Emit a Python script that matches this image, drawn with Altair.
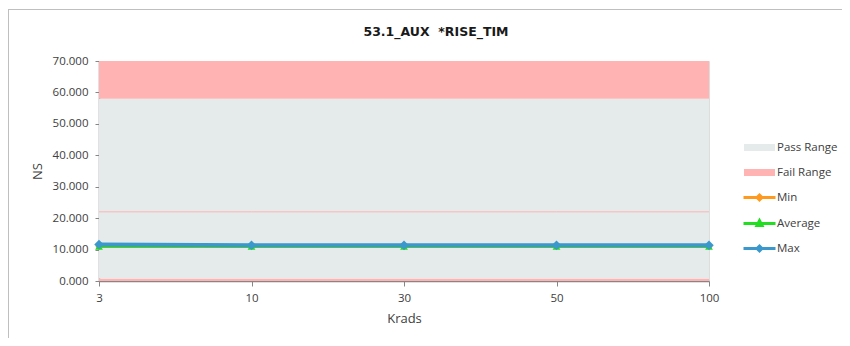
import altair as alt
import pandas as pd

# ---- data ----
krads = ["3", "10", "30", "50", "100"]
min_vals = [10.9, 10.9, 10.9, 10.9, 10.9]
avg_vals = [11.0, 11.0, 11.0, 11.0, 11.0]
max_vals = [11.6, 11.4, 11.4, 11.4, 11.4]

band_names = ["Fail Low", "Pass", "Fail High"]
band_lo = [0.0, 0.8, 58.0]
band_hi = [0.8, 58.0, 70.0]
limit_line = [22.0, 22.0, 22.0, 22.0, 22.0]

y_ticks = [0, 10, 20, 30, 40, 50, 60, 70]

legend_names = ["Pass Range", "Fail Range", "Min", "Average", "Max"]

# ---- styles ----
PASS = "#E5EBEB"
FAIL = "#FFB3B3"
C_MIN = "#FF9A1F"
C_AVG = "#22DD22"
C_MAX = "#3A98CC"
FONT = "Open Sans"
TXT = "#404040"

rect_path = "M-3.1,-0.4H3.1M-3.1,0H3.1M-3.1,0.4H3.1"
diam_path = "M-3.2,0H3.2M0,-0.5L0.5,0L0,0.5L-0.5,0Z"
tri_path = "M-3.2,0H3.2M0,-0.55L0.5,0.4L-0.5,0.4Z"

# ---- tables ----
band_rows = []
for b, lo, hi in zip(band_names, band_lo, band_hi):
    for k in krads:
        band_rows.append({"krads": k, "band": b, "lo": lo, "hi": hi})
bands = pd.DataFrame(band_rows)

series = pd.DataFrame(
    [{"krads": k, "series": "Min", "value": v} for k, v in zip(krads, min_vals)]
    + [{"krads": k, "series": "Average", "value": v} for k, v in zip(krads, avg_vals)]
    + [{"krads": k, "series": "Max", "value": v} for k, v in zip(krads, max_vals)]
)
limit_df = pd.DataFrame({"krads": krads, "limit": limit_line})
legend_df = pd.DataFrame({"name": legend_names})

X = alt.X(
    "krads:N",
    sort=krads,
    scale=alt.Scale(type="point", padding=0),
    axis=alt.Axis(
        title="Krads", labelAngle=0, labelFont=FONT, labelFontSize=11.5, labelColor=TXT,
        labelPadding=6, tickSize=5, tickColor="#868686", domainColor="#868686",
        domainWidth=1.5, titleFont=FONT, titleFontSize=13, titleFontWeight="normal",
        titleColor=TXT, titlePadding=9, grid=False, labelOverlap=False,
    ),
)
yscale = alt.Scale(domain=[0, 70], nice=False)
yaxis = alt.Axis(
    title="NS", values=y_ticks, format=".3f", grid=False, labelFont=FONT, labelFontSize=11.5,
    labelColor=TXT, labelPadding=7, tickSize=4, tickColor="#868686", domainColor="#868686",
    domainWidth=1.5, titleFont=FONT, titleFontSize=13, titleFontWeight="normal",
    titleColor=TXT, titlePadding=8, labelOverlap=False, labelFlush=False,
)


def Y(field):
    return alt.Y(field, scale=yscale, axis=yaxis)


areas = alt.Chart(bands).mark_area(opacity=1).encode(
    x=X,
    y=Y("lo:Q"),
    y2="hi:Q",
    fill=alt.Fill("band:N", scale=alt.Scale(domain=band_names, range=[FAIL, PASS, FAIL]), legend=None),
    detail="band:N",
)

limit = alt.Chart(limit_df).mark_line(color=FAIL, strokeWidth=1).encode(x=X, y=Y("limit:Q"))

layers = [areas, limit]
specs = [("Min", C_MIN, 2.5, "diamond", 50), ("Average", C_AVG, 2.5, "triangle-up", 60), ("Max", C_MAX, 4, "diamond", 90)]
for name, col, sw, shp, sz in specs:
    base = alt.Chart(series).transform_filter(alt.datum.series == name)
    layers.append(base.mark_line(color=col, strokeWidth=sw).encode(x=X, y=Y("value:Q")))
    layers.append(
        base.mark_point(filled=True, shape=shp, size=sz, color=col, opacity=1).encode(x=X, y=Y("value:Q"))
    )

leg = alt.Legend(
    title=None, orient="none", legendX=654, legendY=80, symbolSize=100, labelOffset=11,
    rowPadding=8, symbolStrokeWidth=3, labelFont=FONT, labelFontSize=11.5, labelColor=TXT, padding=0,
)
legend_layer = alt.Chart(legend_df).transform_filter("false").mark_point(
    filled=False, strokeWidth=3, opacity=1
).encode(
    color=alt.Color("name:N", scale=alt.Scale(domain=legend_names, range=[PASS, FAIL, C_MIN, C_AVG, C_MAX]), legend=leg, sort=legend_names),
    shape=alt.Shape("name:N", scale=alt.Scale(domain=legend_names, range=[rect_path, rect_path, diam_path, tri_path, diam_path]), legend=leg, sort=legend_names),
)
layers.append(legend_layer)

one = pd.DataFrame({"a": [0]})
frame_v = alt.Chart(one).mark_rule(color="#BFBFBF", strokeWidth=1).encode(
    x=alt.value(-90.5), y=alt.value(-52), y2=alt.value(280)
)
frame_h = alt.Chart(one).mark_rule(color="#BFBFBF", strokeWidth=1).encode(
    x=alt.value(-91), x2=alt.value(745), y=alt.value(-51.5)
)
layers += [frame_v, frame_h]

chart = alt.layer(*layers).properties(
    width=610,
    height=220,
    title=alt.Title("53.1_AUX\u00a0 *RISE_TIM", font="DejaVu Sans", fontSize=12.5, fontWeight="bold", color="#1A1A1A",
                    anchor="middle", frame="group", dx=32, offset=-30),
    autosize=alt.AutoSizeParams(type="none"),
    padding={"left": 91, "top": 53, "right": 133, "bottom": 57},
).configure_view(stroke=None).configure(background="white")

chart.save("out.html", embed_options={"renderer": "svg", "actions": False})
